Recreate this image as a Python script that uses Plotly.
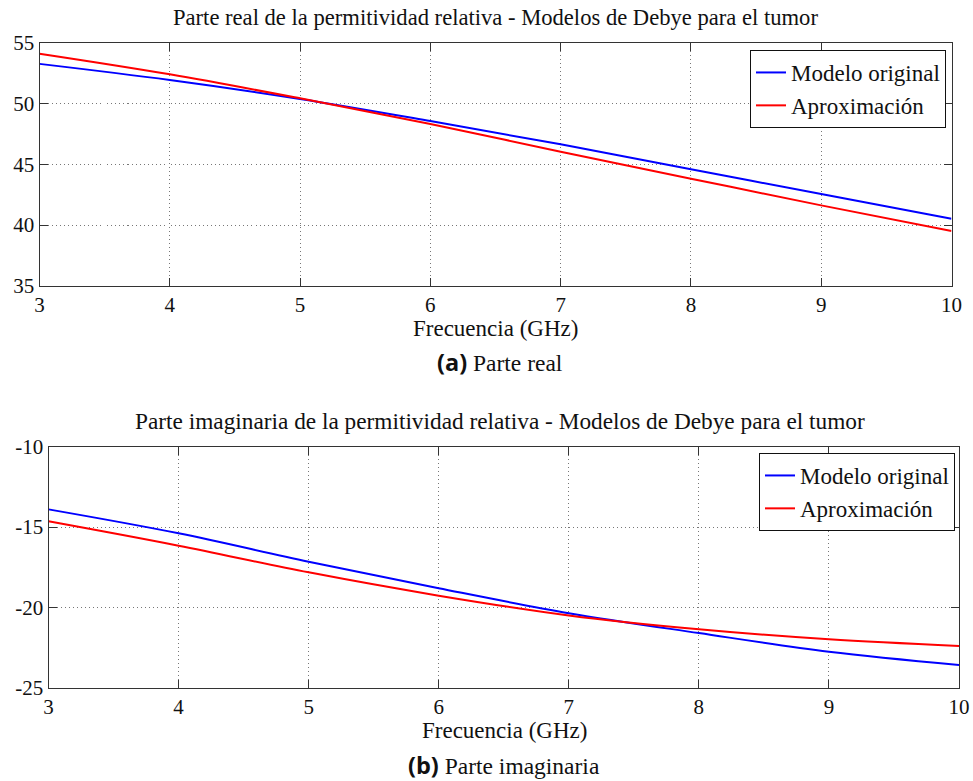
import plotly.graph_objects as go

# Frequency sweep (GHz)
freq = [3, 4, 5, 6, 7, 8, 9, 10]

# Real part of relative permittivity
real_original = [53.28, 51.95, 50.39, 48.57, 46.65, 44.59, 42.56, 40.52]
real_aprox = [54.12, 52.42, 50.44, 48.33, 46.04, 43.82, 41.62, 39.50]

# Imaginary part of relative permittivity
imag_original = [-13.90, -15.39, -17.16, -18.81, -20.36, -21.60, -22.76, -23.58]
imag_aprox = [-14.64, -16.16, -17.82, -19.27, -20.50, -21.36, -21.99, -22.40]

x_ticks = [3, 4, 5, 6, 7, 8, 9, 10]
real_ticks = [35, 40, 45, 50, 55]
imag_ticks = [-25, -20, -15, -10]

SERIF = "Liberation Serif"
W, H = 973, 781
BLUE = "#0000ff"
RED = "#ff0000"
INK = "#111111"

fig = go.Figure()

fig.add_trace(go.Scatter(x=freq, y=real_original, mode="lines", name="Modelo original",
                         line=dict(color=BLUE, width=2, shape="spline"),
                         xaxis="x", yaxis="y", legend="legend"))
fig.add_trace(go.Scatter(x=freq, y=real_aprox, mode="lines", name="Aproximación",
                         line=dict(color=RED, width=2, shape="spline"),
                         xaxis="x", yaxis="y", legend="legend"))
fig.add_trace(go.Scatter(x=freq, y=imag_original, mode="lines", name="Modelo original",
                         line=dict(color=BLUE, width=2, shape="spline"),
                         xaxis="x2", yaxis="y2", legend="legend2"))
fig.add_trace(go.Scatter(x=freq, y=imag_aprox, mode="lines", name="Aproximación",
                         line=dict(color=RED, width=2, shape="spline"),
                         xaxis="x2", yaxis="y2", legend="legend2"))

# Framed axes with inside ticks and dotted grid
axis_common = dict(
    automargin=False,
    showline=True, linecolor="#333333", linewidth=1, mirror="ticks",
    ticks="inside", ticklen=8, tickcolor="#333333", tickwidth=1,
    showgrid=True, gridcolor="#777777", griddash="1px,3px", gridwidth=1,
    zeroline=False,
    tickfont=dict(family=SERIF, size=21, color=INK),
)

top_x = [39.5 / W, 951.5 / W]
top_y = [1 - 285.7 / H, 1 - 43 / H]
bot_x = [48.5 / W, 959 / W]
bot_y = [1 - 687.7 / H, 1 - 446.7 / H]

legend_common = dict(xanchor="right", yanchor="top",
                     bordercolor=INK, borderwidth=1, bgcolor="white",
                     font=dict(family=SERIF, size=23, color=INK),
                     tracegroupgap=0, itemwidth=30)

fig.update_layout(
    width=W, height=H,
    margin=dict(l=0, r=0, t=0, b=0, autoexpand=False),
    paper_bgcolor="white", plot_bgcolor="white",
    font=dict(family=SERIF, size=22, color=INK),
    showlegend=True,
    xaxis=dict(domain=top_x, range=[3, 10], tickvals=x_ticks,
               ticktext=[str(v) for v in x_ticks], anchor="y", **axis_common),
    yaxis=dict(domain=top_y, range=[35, 55], tickvals=real_ticks,
               ticktext=[str(v) for v in real_ticks], anchor="x", **axis_common),
    xaxis2=dict(domain=bot_x, range=[3, 10], tickvals=x_ticks,
                ticktext=[str(v) for v in x_ticks], anchor="y2", **axis_common),
    yaxis2=dict(domain=bot_y, range=[-25, -10], tickvals=imag_ticks,
                ticktext=[str(v) for v in imag_ticks], anchor="x2", **axis_common),
    legend=dict(x=946 / W, y=1 - 50 / H, **legend_common),
    legend2=dict(x=955 / W, y=1 - 453 / H, **legend_common),
)


def text(x, y, s, size=23, family=SERIF):
    fig.add_annotation(x=x / W, y=1 - y / H, xref="paper", yref="paper",
                       text=s, showarrow=False, xanchor="center", yanchor="middle",
                       font=dict(family=family, size=size, color=INK))


text(495, 17, "Parte real de la permitividad relativa - Modelos de Debye para el tumor", size=22.6)
text(495, 328, "Frecuencia (GHz)")
text(500, 362, "<span style='font-family:Open Sans;font-weight:bold'>(a)</span> Parte real", size=23.5)

text(500, 421, "Parte imaginaria de la permitividad relativa - Modelos de Debye para el tumor", size=23.3)
text(504, 730, "Frecuencia (GHz)")
text(504, 765, "<span style='font-family:Open Sans;font-weight:bold'>(b)</span> Parte imaginaria", size=23.5)

fig.write_html("out.html")
